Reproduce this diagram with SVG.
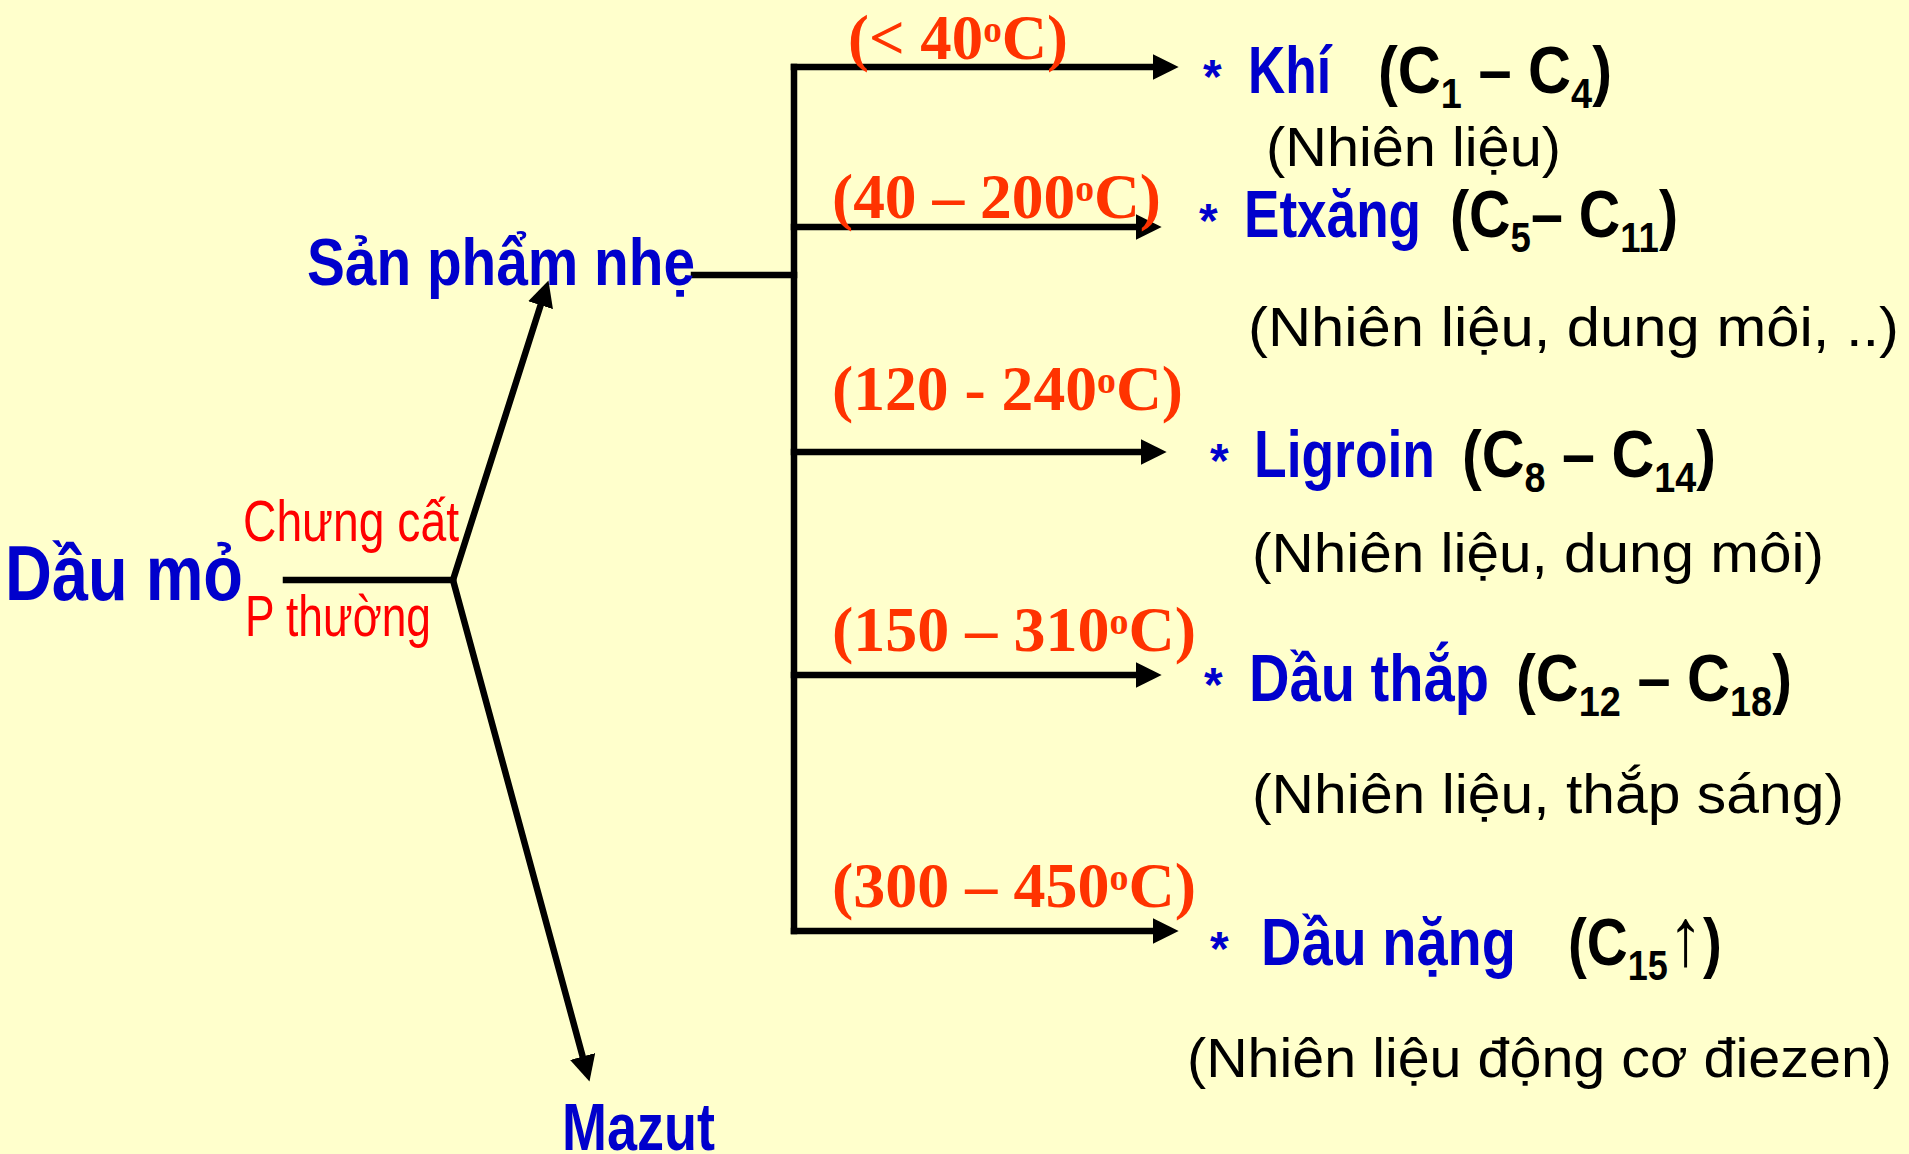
<svg xmlns="http://www.w3.org/2000/svg" width="1909" height="1154" viewBox="0 0 1909 1154">
<defs>
<style>
.bg{fill:#FFFFCC}
.ln{stroke:#000;stroke-width:6.5;fill:none;stroke-linecap:square}
.big{font-family:"Liberation Sans",Arial,sans-serif;font-weight:bold;fill:#0000CC}
.blk{font-family:"Liberation Sans",Arial,sans-serif;font-weight:bold;fill:#000}
.sub{font-family:"Liberation Sans",Arial,sans-serif;fill:#000;font-size:55px}
.red{font-family:"Liberation Sans",Arial,sans-serif;fill:#FF0000;font-size:57px}
.tmp{font-family:"Liberation Serif","Times New Roman",serif;font-weight:bold;fill:#FF3300;font-size:64px}
.ast{font-family:"Liberation Sans",Arial,sans-serif;font-weight:bold;fill:#0000CC;font-size:48px}
.arr{font-family:"Liberation Sans","DejaVu Sans",sans-serif;font-weight:normal}
</style>
<marker id="ah" markerUnits="userSpaceOnUse" markerWidth="26" markerHeight="26" viewBox="0 0 24 24" refX="4" refY="12" orient="auto">
<path d="M0,0 L24,12 L0,24 z" fill="#000"/>
</marker>
</defs>
<rect class="bg" x="0" y="0" width="1909" height="1154"/>

<g id="connectors">
<path class="ln" d="M286,580 L453,580"/>
<path class="ln" d="M453,580 L541.9,301.1" marker-end="url(#ah)"/>
<path class="ln" d="M453,580 L583.8,1060.7" marker-end="url(#ah)"/>
<path class="ln" d="M694,275 L794,275"/>
<path class="ln" d="M794,67 L794,931"/>
<path class="ln" d="M794,67 L1157,67" marker-end="url(#ah)"/>
<path class="ln" d="M794,227 L1140,227" marker-end="url(#ah)"/>
<path class="ln" d="M794,452 L1145,452" marker-end="url(#ah)"/>
<path class="ln" d="M794,675 L1140,675" marker-end="url(#ah)"/>
<path class="ln" d="M794,931 L1157,931" marker-end="url(#ah)"/>
</g>

<g id="dau-mo">
<text class="big" x="5" y="600" font-size="77" textLength="238" lengthAdjust="spacingAndGlyphs">Dầu mỏ</text>
</g>
<g id="condition">
<text class="red" x="243" y="541" textLength="216" lengthAdjust="spacingAndGlyphs">Chưng cất</text>
<text class="red" x="245" y="636" textLength="186" lengthAdjust="spacingAndGlyphs">P thường</text>
</g>
<g id="san-pham-nhe">
<text class="big" x="307" y="285" font-size="67" textLength="388" lengthAdjust="spacingAndGlyphs">Sản phẩm nhẹ</text>
</g>
<g id="mazut">
<text class="big" x="562" y="1150" font-size="67" textLength="153" lengthAdjust="spacingAndGlyphs">Mazut</text>
</g>

<g id="temps">
<text class="tmp" x="848" y="59" textLength="220" lengthAdjust="spacingAndGlyphs">(&lt; 40<tspan font-size="38" dy="-17">o</tspan><tspan dy="17">C)</tspan></text>
<text class="tmp" x="832" y="218" textLength="329" lengthAdjust="spacingAndGlyphs">(40 – 200<tspan font-size="38" dy="-17">o</tspan><tspan dy="17">C)</tspan></text>
<text class="tmp" x="832" y="410" textLength="351" lengthAdjust="spacingAndGlyphs">(120 - 240<tspan font-size="38" dy="-17">o</tspan><tspan dy="17">C)</tspan></text>
<text class="tmp" x="832" y="651" textLength="364" lengthAdjust="spacingAndGlyphs">(150 – 310<tspan font-size="38" dy="-17">o</tspan><tspan dy="17">C)</tspan></text>
<text class="tmp" x="832" y="907" textLength="364" lengthAdjust="spacingAndGlyphs">(300 – 450<tspan font-size="38" dy="-17">o</tspan><tspan dy="17">C)</tspan></text>
</g>

<g id="khi">
<text class="ast" x="1203" y="93">*</text>
<text class="big" x="1248" y="93" font-size="66" textLength="83" lengthAdjust="spacingAndGlyphs">Khí</text>
<text class="blk" x="1378" y="93" font-size="66" textLength="234" lengthAdjust="spacingAndGlyphs">(C<tspan font-size="42" dy="15">1</tspan><tspan dy="-15"> – C</tspan><tspan font-size="42" dy="15">4</tspan><tspan dy="-15">)</tspan></text>
<text class="sub" x="1266" y="166" textLength="295" lengthAdjust="spacingAndGlyphs">(Nhiên liệu)</text>
</g>

<g id="etxang">
<text class="ast" x="1199" y="237">*</text>
<text class="big" x="1244" y="237" font-size="66" textLength="177" lengthAdjust="spacingAndGlyphs">Etxăng</text>
<text class="blk" x="1450" y="237" font-size="66" textLength="228" lengthAdjust="spacingAndGlyphs">(C<tspan font-size="42" dy="15">5</tspan><tspan dy="-15">– C</tspan><tspan font-size="42" dy="15">11</tspan><tspan dy="-15">)</tspan></text>
<text class="sub" x="1248" y="346" textLength="651" lengthAdjust="spacingAndGlyphs">(Nhiên liệu, dung môi, ..)</text>
</g>

<g id="ligroin">
<text class="ast" x="1210" y="477">*</text>
<text class="big" x="1254" y="477" font-size="66" textLength="181" lengthAdjust="spacingAndGlyphs">Ligroin</text>
<text class="blk" x="1462" y="477" font-size="66" textLength="254" lengthAdjust="spacingAndGlyphs">(C<tspan font-size="42" dy="15">8</tspan><tspan dy="-15"> – C</tspan><tspan font-size="42" dy="15">14</tspan><tspan dy="-15">)</tspan></text>
<text class="sub" x="1252" y="572" textLength="572" lengthAdjust="spacingAndGlyphs">(Nhiên liệu, dung môi)</text>
</g>

<g id="dau-thap">
<text class="ast" x="1204" y="701">*</text>
<text class="big" x="1249" y="701" font-size="66" textLength="240" lengthAdjust="spacingAndGlyphs">Dầu thắp</text>
<text class="blk" x="1516" y="701" font-size="66" textLength="276" lengthAdjust="spacingAndGlyphs">(C<tspan font-size="42" dy="15">12</tspan><tspan dy="-15"> – C</tspan><tspan font-size="42" dy="15">18</tspan><tspan dy="-15">)</tspan></text>
<text class="sub" x="1252" y="813" textLength="592" lengthAdjust="spacingAndGlyphs">(Nhiên liệu, thắp sáng)</text>
</g>

<g id="dau-nang">
<text class="ast" x="1210" y="965">*</text>
<text class="big" x="1261" y="965" font-size="66" textLength="255" lengthAdjust="spacingAndGlyphs">Dầu nặng</text>
<text class="blk" x="1568" y="965" font-size="66" textLength="154" lengthAdjust="spacingAndGlyphs">(C<tspan font-size="42" dy="15">15</tspan><tspan dy="-15" class="arr" font-size="82">↑</tspan><tspan>)</tspan></text>
<text class="sub" x="1187" y="1077" textLength="705" lengthAdjust="spacingAndGlyphs">(Nhiên liệu động cơ điezen)</text>
</g>
</svg>
